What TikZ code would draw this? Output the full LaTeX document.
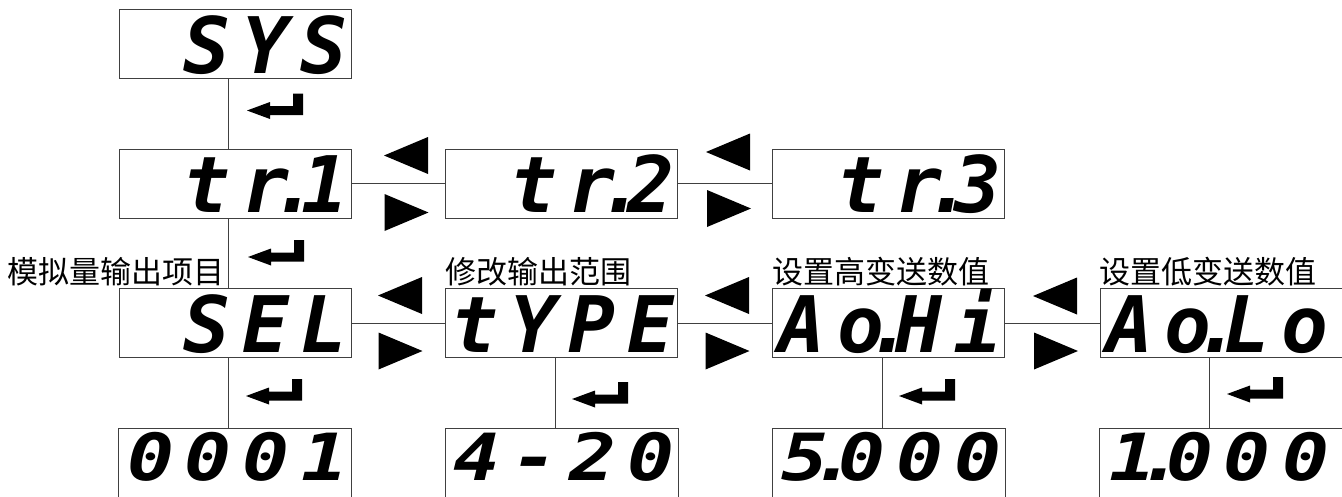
\documentclass[tikz,border=0pt]{standalone}
\usepackage{fontspec}
\newfontfamily\segfont{DejaVu Sans Mono}[LetterSpace=15]
\newfontfamily\segfontb{DejaVu Sans Mono}[FakeStretch=1.2,LetterSpace=17]
\newfontfamily\cjk{Noto Sans CJK SC}
\newcommand\segdot{\makebox[0.15em]{.}}
\begin{document}
\begin{tikzpicture}[x=1pt,y=-1pt,
  disp/.style={draw=black!75, line width=1pt, rectangle, inner xsep=3pt, inner ysep=5.5pt,
    text width=226pt, align=right, text height=58pt, text depth=0pt,
    font=\fontsize{78}{78}\segfont\bfseries\itshape},
  wdisp/.style={disp, text width=244pt},
  bdisp/.style={disp, draw=none, inner ysep=3.25pt, text height=48pt, text depth=12.5pt,
    font=\fontsize{65}{65}\segfontb\bfseries\itshape},
  wbdisp/.style={bdisp, text width=244pt},
  conn/.style={draw=black!75, line width=1pt},
  lbl/.style={font=\fontsize{31}{31}\cjk, inner sep=0pt, anchor=base west},
  leftarr/.pic={\fill (-22,0) -- (22,-18.5) -- (22,18.5) -- cycle;},
  rightarr/.pic={\fill (22,0) -- (-22,-18.5) -- (-22,18.5) -- cycle;},
  enterkey/.pic={\fill (0,0) -- (23,-8.5) -- (23,-4.5) -- (46,-4.5) -- (46,-17) -- (56,-17) -- (56,4.5) -- (23,4.5) -- (23,8.5) -- cycle;}
]
\useasboundingbox (0,0) rectangle (1342,496);
% displays
\node[disp] (sys) at (235,44) {SYS};
\node[disp] (tr1) at (235,183.5) {tr\segdot 1};
\node[disp] (tr2) at (561.5,183.5) {tr\segdot 2};
\node[disp] (tr3) at (888.5,183.5) {tr\segdot 3};
\node[disp] (sel) at (235,323) {SEL};
\node[disp] (type) at (561.5,323) {tYPE};
\node[disp] (aohi) at (888.5,323) {Ao\segdot Hi};
\node[wdisp] (aolo) at (1225,323) {Ao\segdot Lo\kern18pt};
\node[bdisp] (selv) at (235,462.5) {0001};
\node[bdisp] (typev) at (561.5,462.5) {4-20};
\node[bdisp] (hiv) at (888.5,462.5) {5\segdot 000};
\node[wbdisp] (lov) at (1225,462.5) {1\segdot 000\kern18pt};
\foreach \b in {selv,typev,hiv,lov}
  \draw[conn] (\b.south west) -- (\b.north west) -- (\b.north east) -- (\b.south east);
% labels
\node[lbl] (l1) at (7,283) {模拟量输出项目};
\node[lbl] (l2) at (445,283) {修改输出范围};
\node[lbl] (l3) at (772,283) {设置高变送数值};
\node[lbl] (l4) at (1099,283) {设置低变送数值};
% vertical connectors
\draw[conn] ([xshift=110pt]sys.south west) -- ([xshift=110pt]tr1.north west);
\draw[conn] ([xshift=110pt]tr1.south west) -- ([xshift=110pt]sel.north west);
\draw[conn] ([xshift=110pt]sel.south west) -- ([xshift=110pt]selv.north west);
\draw[conn] ([xshift=110pt]type.south west) -- ([xshift=110pt]typev.north west);
\draw[conn] ([xshift=110pt]aohi.south west) -- ([xshift=110pt]hiv.north west);
\draw[conn] ([xshift=110pt]aolo.south west) -- ([xshift=110pt]lov.north west);
% horizontal connectors
\draw[conn] (tr1.east) -- (tr2.west);
\draw[conn] (tr2.east) -- (tr3.west);
\draw[conn] (sel.east) -- (type.west);
\draw[conn] (type.east) -- (aohi.west);
\draw[conn] (aohi.east) -- (aolo.west);
% navigation arrows
\pic at (406,155.5) {leftarr};
\pic at (406.5,212.5) {rightarr};
\pic at (728,152) {leftarr};
\pic at (729,208.5) {rightarr};
\pic at (400,295.5) {leftarr};
\pic at (400.5,351) {rightarr};
\pic at (727,295.5) {leftarr};
\pic at (727.5,351) {rightarr};
\pic at (1055,296) {leftarr};
\pic at (1056,351) {rightarr};
% enter keys
\pic at (247,110.5) {enterkey};
\pic at (248,257) {enterkey};
\pic at (246,396) {enterkey};
\pic at (572,399) {enterkey};
\pic at (899,396) {enterkey};
\pic at (1227,394) {enterkey};
\end{tikzpicture}
\end{document}
